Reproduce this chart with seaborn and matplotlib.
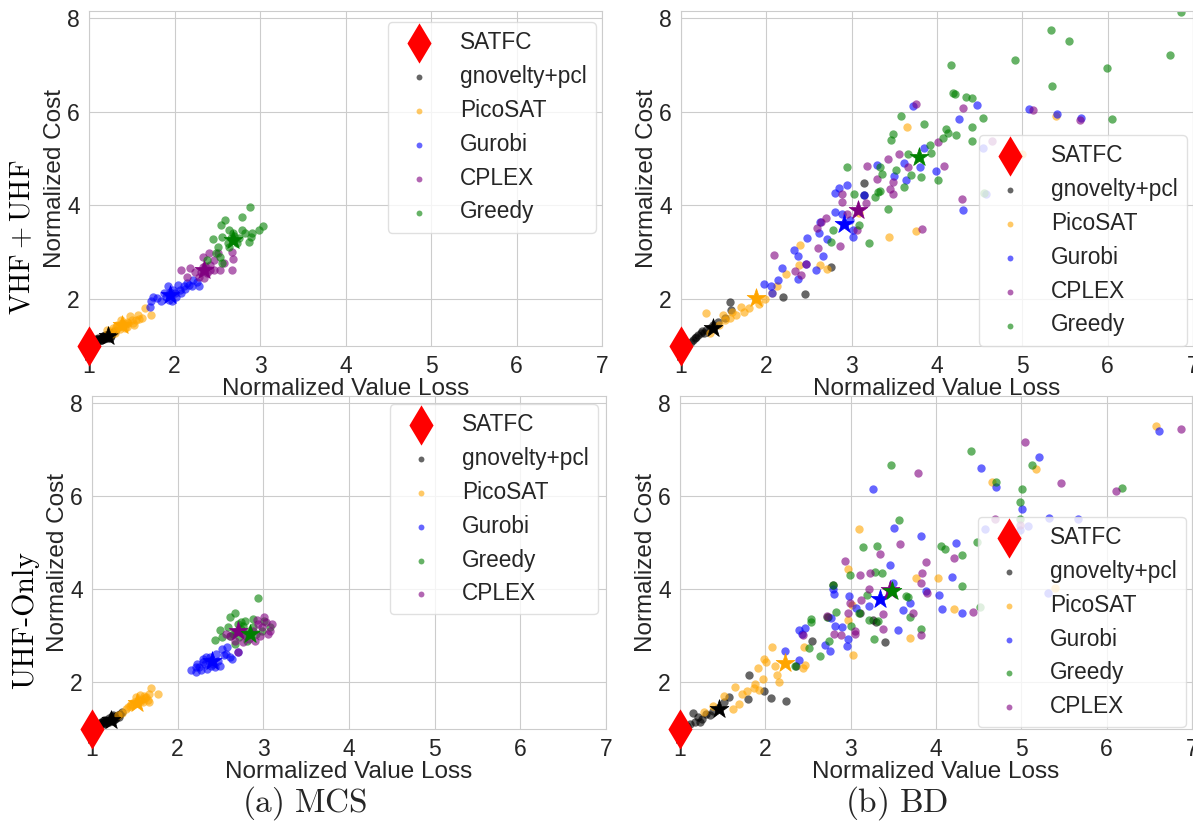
import matplotlib
matplotlib.use("Agg")
import matplotlib.pyplot as plt
import seaborn as sns

# ---------------- DATA ----------------
# Panel (a) MCS, VHF+UHF
mv_gn_x = [1.06,1.08,1.10,1.12,1.14,1.16,1.18,1.20,1.22,1.24,1.26,1.28,1.30,1.10,1.14,1.18,1.22,1.26,1.12,1.16,1.20,1.24,1.08,1.15,1.19,1.23,1.27,1.11,1.17,1.21]
mv_gn_y = [1.10,1.12,1.15,1.13,1.18,1.15,1.20,1.22,1.25,1.18,1.22,1.30,1.33,1.18,1.12,1.14,1.18,1.28,1.10,1.21,1.16,1.27,1.15,1.17,1.24,1.20,1.26,1.13,1.19,1.23]
mv_pico_x = [1.65,1.73,1.57,1.50,1.44,1.39,1.35,1.30,1.26,1.48,1.55,1.42,1.37,1.33,1.24,1.62,1.53,1.46,1.28,1.21,1.30,1.40,1.45,1.36,1.32,1.51,1.58,1.43]
mv_pico_y = [1.80,1.66,1.66,1.55,1.52,1.48,1.41,1.34,1.31,1.63,1.55,1.38,1.55,1.45,1.23,1.59,1.45,1.48,1.38,1.34,1.27,1.42,1.40,1.36,1.40,1.50,1.58,1.46]
mv_gur_x = [1.92,1.73,1.79,1.84,1.93,2.00,2.06,2.15,2.20,2.26,2.29,2.11,2.02,1.95,1.88,1.75,2.04,2.22,1.71,1.97,2.08,1.98,2.12,1.90,2.17]
mv_gur_y = [2.29,1.95,2.02,1.95,1.98,2.12,2.19,2.34,2.27,2.37,2.27,2.27,2.05,2.16,2.12,2.05,2.30,2.41,1.84,1.95,2.12,2.20,2.22,2.05,2.30]
mv_cplex_x = [2.08,2.18,2.33,2.40,2.67,2.68,2.67,2.51,2.42,2.33,2.29,2.15,2.38,2.46,2.58,2.46,2.53,2.24,2.35,2.42,2.36,2.31]
mv_cplex_y = [2.61,2.66,2.90,2.98,2.61,2.85,3.01,2.98,2.73,2.69,2.48,2.48,2.55,2.62,2.76,2.83,2.62,2.58,2.44,2.62,2.70,2.58]
mv_greedy_x = [2.88,2.59,2.54,2.79,3.03,2.99,2.91,2.79,2.64,2.45,2.55,2.69,2.73,2.87,2.89,2.51,2.48,2.53,2.38,2.64,2.69,2.75,2.82,2.55,2.62,2.66,2.70]
mv_greedy_y = [3.97,3.69,3.57,3.76,3.56,3.47,3.40,3.47,3.47,3.28,3.32,3.26,3.19,3.22,3.32,3.12,2.98,2.90,2.83,3.12,3.40,3.30,3.40,2.76,3.19,3.30,3.35]
mv_star_x = [1.22, 1.39, 1.95, 2.35, 2.68]
mv_star_y = [1.22, 1.45, 2.09, 2.62, 3.25]

# Panel (a) MCS, UHF-Only
mu_gn_x = [1.08,1.10,1.12,1.14,1.16,1.18,1.20,1.22,1.24,1.26,1.28,1.30,1.33,1.35,1.12,1.16,1.20,1.24,1.28,1.10,1.15,1.19,1.23,1.27,1.31,1.14,1.21,1.25]
mu_gn_y = [1.08,1.12,1.10,1.15,1.13,1.18,1.16,1.22,1.20,1.25,1.24,1.30,1.33,1.36,1.16,1.20,1.24,1.18,1.28,1.14,1.10,1.14,1.27,1.21,1.26,1.19,1.20,1.29]
mu_pico_x = [1.69,1.77,1.67,1.63,1.58,1.54,1.49,1.45,1.42,1.47,1.56,1.65,1.60,1.51,1.35,1.40,1.67,1.30,1.52,1.61,1.44,1.57,1.62]
mu_pico_y = [1.89,1.76,1.76,1.69,1.65,1.62,1.58,1.53,1.47,1.51,1.72,1.62,1.58,1.69,1.35,1.44,1.58,1.30,1.55,1.70,1.50,1.60,1.66]
mu_gur_x = [2.21,2.25,2.32,2.38,2.45,2.52,2.58,2.61,2.63,2.41,2.34,2.27,2.23,2.47,2.54,2.36,2.29,2.43,2.49,2.70,2.16,2.21,2.30,2.39,2.56,2.33]
mu_gur_y = [2.22,2.33,2.40,2.54,2.61,2.72,2.75,2.54,2.50,2.40,2.29,2.26,2.40,2.47,2.58,2.47,2.50,2.33,2.36,2.65,2.26,2.33,2.44,2.35,2.60,2.55]
mu_greedy_x = [2.94,2.67,2.61,2.50,2.44,2.79,2.88,3.01,3.08,2.70,2.74,2.83,2.65,2.72,2.79,2.88,2.61,2.67,2.52,2.92,2.99,2.81,2.74,2.59,2.68,2.76]
mu_greedy_y = [3.81,3.50,3.40,3.12,2.92,3.32,3.36,3.32,3.20,3.25,3.15,3.11,3.04,2.97,3.04,3.18,3.00,2.83,2.97,3.04,3.11,2.90,3.29,3.18,3.08,3.22]
mu_cplex_x = [3.01,3.08,3.05,2.96,2.90,2.83,2.76,2.70,2.61,2.56,2.94,3.03,2.88,2.79,2.85,3.10,2.99,2.67,2.93]
mu_cplex_y = [3.40,3.11,3.04,3.00,2.90,2.93,2.86,2.65,3.00,3.04,3.25,3.29,3.11,3.04,3.04,3.25,3.18,2.90,3.33]
mu_star_x = [1.22, 1.52, 2.40, 2.70, 2.85]
mu_star_y = [1.20, 1.55, 2.45, 3.10, 3.05]

# Panel (b) BD, VHF+UHF
bv_gn_x = [1.58,2.20,2.45,2.76,3.15,3.14,1.59,1.51,1.38,1.29,1.23,1.18,1.14,1.12,1.25,1.20,1.34,1.43,1.16,1.27]
bv_gn_y = [1.94,2.05,2.10,2.69,4.48,4.22,1.77,1.59,1.45,1.34,1.27,1.20,1.13,1.09,1.31,1.23,1.38,1.52,1.16,1.27]
bv_pico_x = [3.65,5.00,5.40,3.09,3.44,3.75,2.40,2.63,2.38,2.71,2.23,2.13,2.07,1.98,1.88,1.91,1.80,1.74,1.70,1.65,1.57,1.29,1.51,1.45,1.38,1.34,1.49,1.60]
bv_pico_y = [5.67,5.10,5.90,3.84,3.32,3.46,3.15,2.72,2.72,2.65,2.54,2.29,2.14,2.00,2.01,1.89,1.80,1.73,1.84,1.66,1.59,1.71,1.55,1.45,1.38,1.27,1.66,1.73]
bv_gur_x = [3.72,4.47,4.26,5.08,5.41,5.69,4.54,3.85,3.80,3.61,3.30,3.50,3.64,3.99,2.94,2.85,2.80,3.14,4.58,4.30,2.80,2.63,2.62,2.71,2.48,2.33,2.37,2.66,2.18,2.47,2.58,2.37,2.14,1.97,2.05,2.07,3.01,3.01,2.98,2.89]
bv_gur_y = [6.11,6.14,5.85,6.05,5.95,5.87,5.23,5.22,4.81,4.91,4.87,4.62,4.53,4.73,4.44,4.36,4.26,4.23,4.25,3.91,3.85,3.65,3.42,3.28,3.31,3.04,2.92,2.92,2.67,2.75,2.62,2.42,2.41,2.32,2.28,2.14,3.33,3.47,3.68,3.82]
bv_cplex_x = [3.75,4.31,5.12,5.68,4.64,4.01,3.55,3.43,4.08,3.66,3.18,3.30,3.49,3.45,3.49,4.29,3.83,2.89,2.89,3.17,2.94,2.59,2.64,2.70,2.86,2.60,3.06,2.09,2.34,2.41,2.47]
bv_cplex_y = [6.15,6.08,6.04,5.81,5.37,5.34,5.09,4.99,4.83,4.82,4.84,4.56,4.50,4.35,4.25,4.14,3.49,4.25,4.07,4.05,3.82,3.52,3.65,3.72,3.13,3.10,3.48,2.94,2.60,2.51,2.75]
bv_greedy_x = [6.86,5.34,5.55,4.91,6.73,4.16,5.99,5.35,4.19,4.21,4.34,4.41,3.58,4.54,6.05,3.85,4.41,4.10,4.13,4.22,3.48,3.46,4.41,4.07,3.92,3.93,3.66,2.94,3.33,3.35,3.52,3.69,3.81,4.01,3.61,3.33,3.27,3.03,4.55,3.43,3.09,2.78,2.76,3.20,3.31]
bv_greedy_y = [8.12,7.73,7.50,7.10,7.21,7.00,6.92,6.55,6.40,6.37,6.31,6.29,5.90,5.87,5.85,5.73,5.68,5.62,5.55,5.51,5.52,5.39,5.37,5.44,5.29,5.12,5.09,4.82,4.82,4.66,4.75,4.64,4.61,4.53,4.39,4.30,4.18,4.25,4.26,3.92,3.58,3.48,3.22,3.19,4.29]
bv_star_x = [1.38, 1.88, 2.91, 3.08, 3.79]
bv_star_y = [1.38, 2.03, 3.60, 3.90, 5.03]

# Panel (b) BD, UHF-Only
bu_gn_x = [2.79,2.73,3.11,3.26,3.30,3.40,2.55,2.36,1.81,1.98,2.07,2.24,1.80,1.57,1.52,1.39,1.35,1.26,1.17,1.15,1.21,1.30,1.12,1.08,1.44,1.24]
bu_gn_y = [4.09,3.41,3.50,3.34,3.30,2.86,2.88,2.36,2.17,1.82,1.66,1.60,1.64,1.68,1.57,1.39,1.29,1.21,1.14,1.34,1.25,1.32,1.11,1.07,1.46,1.16]
bu_pico_x = [6.58,5.17,4.66,3.10,2.97,3.76,4.02,5.39,3.01,2.97,4.21,3.69,3.03,2.45,2.08,1.98,2.01,1.91,2.11,2.14,2.16,1.97,1.88,1.87,1.92,1.65,1.73,1.79,2.47,2.44,1.62,1.69,1.52,1.28,1.39]
bu_pico_y = [7.50,6.59,6.31,5.29,4.44,4.24,4.24,4.02,3.67,3.34,3.57,2.95,2.59,2.77,2.75,2.50,2.43,2.30,2.36,2.16,2.01,2.07,1.96,1.87,1.84,1.91,1.76,1.82,2.37,2.30,1.43,1.54,1.71,1.36,1.50]
bu_gur_x = [6.61,5.21,4.53,3.26,4.70,5.01,5.33,5.66,5.08,4.98,4.57,3.51,3.83,4.23,3.46,4.19,3.50,2.79,2.80,3.88,4.03,3.70,2.98,3.06,3.22,3.61,4.07,4.30,3.55,2.77,2.82,2.90,2.47,2.39,2.43,2.97,2.96,2.70,2.76,2.23,2.39,5.31]
bu_gur_y = [7.39,6.85,6.60,6.16,6.20,5.73,5.53,5.51,5.36,5.27,5.29,5.31,5.15,4.99,4.52,4.27,4.14,4.00,3.89,3.96,3.88,3.70,3.85,3.59,3.64,3.55,3.57,3.50,3.12,3.39,3.21,3.20,3.16,3.12,3.03,2.93,2.79,2.81,2.68,2.67,2.49,3.91]
bu_greedy_x = [4.41,3.47,5.13,4.70,5.01,6.18,4.99,4.99,3.57,4.48,4.06,4.10,4.31,3.14,3.31,3.37,3.28,2.99,2.79,4.31,4.52,3.65,3.67,3.19,2.83,2.72,2.54,2.54,3.00,3.10,3.21,3.32,3.69,3.83,3.27,2.75,2.51,2.64,2.35]
bu_greedy_y = [6.97,6.66,6.66,6.31,6.16,6.18,5.88,5.51,5.48,5.02,4.93,4.86,4.73,4.91,4.94,4.36,4.37,4.31,4.09,4.06,3.63,3.86,3.84,3.87,3.51,3.41,3.36,3.29,3.21,3.50,3.34,3.31,3.41,3.14,2.93,2.89,2.73,2.56,2.36]
bu_cplex_x = [6.87,5.04,3.79,5.46,6.11,4.69,4.98,3.58,3.34,4.21,2.93,3.88,3.84,3.11,3.23,3.83,3.89,3.21,3.12,2.99,2.97,3.73,4.43,3.38,2.72,3.38,3.05,3.05,2.89,2.80,3.82,2.44]
bu_cplex_y = [7.44,7.16,6.49,6.29,6.12,5.50,5.39,4.98,4.76,4.68,4.61,4.59,4.34,4.30,4.34,4.14,3.91,4.01,3.76,3.71,3.50,3.49,3.51,3.46,3.43,3.14,3.11,3.04,3.01,3.04,3.02,3.01]
bu_star_x = [1.46, 2.23, 3.34, 3.46, 3.49]
bu_star_y = [1.44, 2.41, 3.80, 3.98, 3.96]

satfc_x = [1.0]
satfc_y = [1.0]

names_top = ["gnovelty+pcl", "PicoSAT", "Gurobi", "CPLEX", "Greedy"]
names_bottom = ["gnovelty+pcl", "PicoSAT", "Gurobi", "Greedy", "CPLEX"]
x_ticks = [1, 2, 3, 4, 5, 6, 7]
y_ticks = [2, 4, 6, 8]
x_label = "Normalized Value Loss"
y_label = "Normalized Cost"
row_labels = [r"$\mathrm{VHF+UHF}$", "UHF-Only"]
captions = [r"$\mathrm{(a)\ MCS}$", r"$\mathrm{(b)\ BD}$"]

# ---------------- STYLE ----------------
colors = {"gnovelty+pcl": "black", "PicoSAT": "orange", "Gurobi": "blue",
          "CPLEX": "purple", "Greedy": "green"}
star_colors = ["black", "orange", "blue", "purple", "green"]

sns.set_style("whitegrid", {"axes.edgecolor": ".8", "grid.color": ".8"})
plt.rcParams["font.family"] = ["Liberation Sans", "DejaVu Sans"]
plt.rcParams["mathtext.fontset"] = "cm"

W, H = 1193, 822
fig = plt.figure(figsize=(W / 100, H / 100), dpi=100)


def make_ax(left, right, top, bottom):
    return fig.add_axes([left / W, 1 - bottom / H, (right - left) / W, (bottom - top) / H])


def draw(ax, series, stars, anchor):
    sns.scatterplot(x=satfc_x, y=satfc_y, marker="d", s=420, color="red",
                    linewidth=0, zorder=6, clip_on=False, label="SATFC", ax=ax)
    for name, xs, ys in series:
        sns.scatterplot(x=xs, y=ys, color=colors[name], alpha=0.6, s=36,
                        linewidth=0, label=name, ax=ax)
    sx, sy = stars
    for i in range(len(sx)):
        sns.scatterplot(x=[sx[i]], y=[sy[i]], marker="*", s=200,
                        color=star_colors[i], edgecolor=star_colors[i],
                        linewidth=0.5, zorder=5, label="_nolegend_", ax=ax)
    ax.set_xlim(1, 7)
    ax.set_ylim(1, 8.15)
    ax.set_xticks(x_ticks)
    ax.set_yticks(y_ticks)
    ax.tick_params(labelsize=16.5, colors=".15", pad=3)
    ax.set_xlabel(x_label, fontsize=17.5, labelpad=0, color=".15")
    ax.set_ylabel(y_label, fontsize=17.5, labelpad=1, color=".15")
    leg = ax.legend(loc="upper right", bbox_to_anchor=anchor, borderaxespad=0,
                    fontsize=16.3, handletextpad=0.8, labelspacing=0.48,
                    handlelength=2.0, borderpad=0.4, frameon=True)
    leg.get_frame().set_edgecolor(".85")
    for h in leg.legend_handles[1:]:
        h.set_sizes([18])


ax_tl = make_ax(89, 602, 10.7, 346)
ax_tr = make_ax(681, 1193, 10.7, 346)
ax_bl = make_ax(92, 606, 396, 729)
ax_br = make_ax(680, 1192, 396, 729)

draw(ax_tl, [(names_top[0], mv_gn_x, mv_gn_y), (names_top[1], mv_pico_x, mv_pico_y),
             (names_top[2], mv_gur_x, mv_gur_y), (names_top[3], mv_cplex_x, mv_cplex_y),
             (names_top[4], mv_greedy_x, mv_greedy_y)], (mv_star_x, mv_star_y), (0.988, 0.966))
draw(ax_tr, [(names_top[0], bv_gn_x, bv_gn_y), (names_top[1], bv_pico_x, bv_pico_y),
             (names_top[2], bv_gur_x, bv_gur_y), (names_top[3], bv_cplex_x, bv_cplex_y),
             (names_top[4], bv_greedy_x, bv_greedy_y)], (bv_star_x, bv_star_y), (0.988, 0.629))
draw(ax_bl, [(names_bottom[0], mu_gn_x, mu_gn_y), (names_bottom[1], mu_pico_x, mu_pico_y),
             (names_bottom[2], mu_gur_x, mu_gur_y), (names_bottom[3], mu_greedy_x, mu_greedy_y),
             (names_bottom[4], mu_cplex_x, mu_cplex_y)], (mu_star_x, mu_star_y), (0.984, 0.976))
draw(ax_br, [(names_bottom[0], bu_gn_x, bu_gn_y), (names_bottom[1], bu_pico_x, bu_pico_y),
             (names_bottom[2], bu_gur_x, bu_gur_y), (names_bottom[3], bu_greedy_x, bu_greedy_y),
             (names_bottom[4], bu_cplex_x, bu_cplex_y)], (bu_star_x, bu_star_y), (0.988, 0.637))

fig.text(23 / W, 1 - 237 / H, row_labels[0], rotation=90, fontsize=20.5,
         ha="center", va="center", color="black")
fig.text(25 / W, 1 - 620 / H, row_labels[1], rotation=90, fontsize=21.5,
         ha="center", va="center", family="cmr10", color="black")
fig.text(305 / W, 1 - 803 / H, captions[0], fontsize=24, ha="center", va="center")
fig.text(897 / W, 1 - 803 / H, captions[1], fontsize=24, ha="center", va="center")

fig.savefig("out.png", dpi=100)
